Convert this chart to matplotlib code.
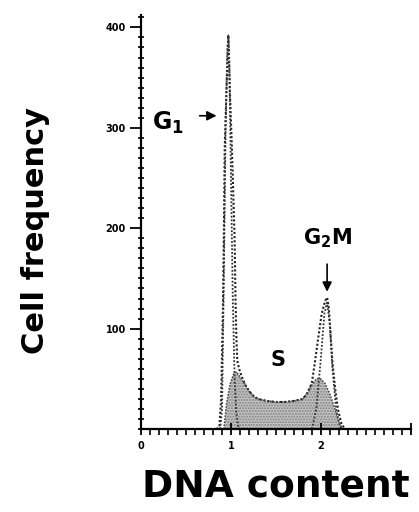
import matplotlib.pyplot as plt
from matplotlib.ticker import MultipleLocator

# total histogram outline (DNA content, cell count)
total_x = [0.84, 0.87, 0.89, 0.91, 0.92, 0.93, 0.95, 0.97, 0.99, 1.01, 1.03, 1.04, 1.05,
           1.06, 1.07, 1.09, 1.12, 1.16, 1.20, 1.25, 1.30, 1.40, 1.50, 1.60, 1.70, 1.80,
           1.85, 1.90, 1.93, 1.97, 2.01, 2.05, 2.07, 2.09, 2.11, 2.13, 2.16, 2.19, 2.23, 2.27]
total_y = [0, 2, 30, 120, 190, 280, 340, 392, 330, 280, 220, 190, 130,
           90, 68, 60, 52, 44, 38, 33, 30, 28, 27, 27, 28, 30,
           36, 46, 64, 90, 115, 128, 131, 120, 92, 66, 40, 20, 5, 0]

# G1 fitted peak
g1_x = [0.88, 0.90, 0.92, 0.94, 0.96, 0.97, 0.98, 1.00, 1.02, 1.04, 1.06, 1.08, 1.10]
g1_y = [0, 20, 150, 300, 380, 392, 370, 250, 130, 50, 15, 3, 0]

# G2M fitted peak
g2_x = [1.90, 1.95, 2.00, 2.04, 2.07, 2.10, 2.13, 2.17, 2.21, 2.24]
g2_y = [0, 20, 70, 115, 126, 105, 60, 20, 3, 0]

# S phase (shaded)
s_x = [0.92, 0.95, 0.99, 1.03, 1.06, 1.10, 1.16, 1.20, 1.25, 1.30, 1.40, 1.50, 1.60,
       1.70, 1.80, 1.85, 1.90, 1.95, 2.00, 2.05, 2.10, 2.15, 2.20, 2.24]
s_y = [0, 25, 45, 55, 57, 52, 44, 38, 33, 30, 28, 27, 27,
       28, 30, 36, 44, 50, 50, 45, 35, 22, 8, 0]

fig = plt.figure(figsize=(4.19, 5.12), dpi=100)
ax = fig.add_axes([0.337, 0.162, 0.643, 0.808])

ax.fill_between(s_x, s_y, color="#c4c4c4", hatch="......", edgecolor="#808080", linewidth=0)
dots = (0, (1, 1))
ax.plot(total_x, total_y, color="#222222", lw=1.5, ls=dots)
ax.plot(g1_x, g1_y, color="#333333", lw=1.3, ls=dots)
ax.plot(g2_x, g2_y, color="#333333", lw=1.3, ls=dots)
ax.plot(s_x, s_y, color="#444444", lw=1.1, ls=dots)

ax.set_xlim(0, 3)
ax.set_ylim(0, 412)
ax.spines[["top", "right"]].set_visible(False)
ax.spines[["left", "bottom"]].set_linewidth(1.6)

ax.set_yticks([100, 200, 300, 400])
ax.yaxis.set_minor_locator(MultipleLocator(10))
ax.set_xticks([0, 1, 2, 3], ["0", "1", "2", ""])
ax.xaxis.set_minor_locator(MultipleLocator(0.1))
ax.tick_params(axis="y", which="major", direction="out", length=8, width=1.3,
               labelsize=7, pad=3)
ax.tick_params(axis="y", which="minor", direction="inout", length=5, width=1.2)
ax.tick_params(axis="x", which="major", direction="inout", length=9, width=1.3,
               labelsize=7, pad=4)
ax.tick_params(axis="x", which="minor", direction="out", length=4, width=1.2)
for lab in ax.get_xticklabels() + ax.get_yticklabels():
    lab.set_fontweight("bold")

ax.set_ylabel("Cell frequency", fontsize=22, fontweight="bold")
ax.yaxis.set_label_coords(-0.337, 0.48)
ax.set_xlabel("DNA content", fontsize=27, fontweight="bold", labelpad=13)

ax.text(0.12, 305, r"G$_\mathbf{1}$", fontsize=17, fontweight="bold", va="center", ha="left")
ax.annotate("", xy=(0.87, 312), xytext=(0.62, 312),
            arrowprops=dict(arrowstyle="-|>", color="black", lw=1.2, mutation_scale=14))
ax.text(2.07, 190, r"G$_\mathbf{2}$M", fontsize=15, fontweight="bold", va="center", ha="center")
ax.annotate("", xy=(2.07, 134), xytext=(2.07, 167),
            arrowprops=dict(arrowstyle="-|>", color="black", lw=1.2, mutation_scale=14))
ax.text(1.52, 69, "S", fontsize=15, fontweight="bold", va="center", ha="center")

fig.savefig("out.png", dpi=100)
